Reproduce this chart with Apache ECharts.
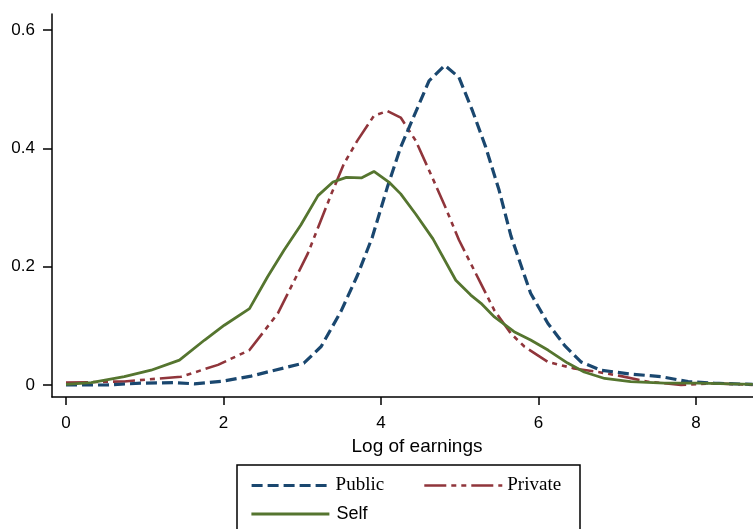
<!DOCTYPE html>
<html>
<head>
<meta charset="utf-8">
<script src="https://cdn.jsdelivr.net/npm/echarts@6/dist/echarts.min.js"></script>
<style>
html,body{margin:0;padding:0;background:#fff;}
#chart{width:753px;height:529px;}
</style>
</head>
<body>
<div id="chart"></div>
<script>
// ---- data ----
var xTicks = [0, 2, 4, 6, 8];
var yTicks = [0, 0.2, 0.4, 0.6];

var publicX = [0, 0.5, 0.95, 1.37, 1.63, 1.97, 2.35, 2.65, 3.02, 3.24, 3.49, 3.7, 3.89, 4.08, 4.25, 4.44, 4.61, 4.81, 4.99, 5.16, 5.33, 5.5, 5.65, 5.9, 6.12, 6.33, 6.54, 6.79, 7.17, 7.56, 7.9, 8.23, 8.72];
var publicY = [0, 0, 0.003, 0.004, 0.002, 0.006, 0.015, 0.025, 0.037, 0.065, 0.124, 0.185, 0.25, 0.334, 0.402, 0.461, 0.514, 0.54, 0.52, 0.464, 0.402, 0.329, 0.252, 0.155, 0.104, 0.067, 0.039, 0.025, 0.0185, 0.014, 0.0056, 0.003, 0.001];

var privateX = [0, 0.74, 1.46, 1.93, 2.33, 2.69, 3.07, 3.37, 3.53, 3.7, 3.91, 4.08, 4.25, 4.44, 4.61, 4.8, 4.99, 5.27, 5.44, 5.65, 5.82, 6.12, 6.45, 6.75, 7.05, 7.39, 7.81, 8.23, 8.72];
var privateY = [0.004, 0.006, 0.014, 0.034, 0.059, 0.121, 0.222, 0.323, 0.374, 0.413, 0.455, 0.463, 0.452, 0.413, 0.363, 0.306, 0.245, 0.171, 0.126, 0.087, 0.065, 0.039, 0.028, 0.022, 0.015, 0.0056, 0, 0.003, 0];

var selfX = [0, 0.32, 0.74, 1.08, 1.44, 1.76, 2.01, 2.33, 2.56, 2.77, 2.98, 3.2, 3.39, 3.56, 3.75, 3.91, 4.1, 4.25, 4.44, 4.66, 4.95, 5.14, 5.27, 5.44, 5.69, 5.9, 6.12, 6.37, 6.58, 6.84, 7.17, 7.6, 8.02, 8.72];
var selfY = [0.001, 0.004, 0.014, 0.025, 0.042, 0.076, 0.101, 0.129, 0.183, 0.228, 0.27, 0.32, 0.343, 0.351, 0.35, 0.361, 0.343, 0.323, 0.289, 0.247, 0.177, 0.152, 0.138, 0.115, 0.09, 0.076, 0.059, 0.037, 0.022, 0.011, 0.0056, 0.003, 0.003, 0.001];

function pairs(xs, ys) {
  var out = [];
  for (var i = 0; i < xs.length; i++) out.push([xs[i], ys[i]]);
  return out;
}

var chart = echarts.init(document.getElementById('chart'), null, {renderer: 'canvas'});
var sans = 'Liberation Sans, Arial, sans-serif';
var serif = 'Liberation Serif, Times New Roman, serif';
var hiddenSymbol = {opacity: 0, color: 'transparent', borderWidth: 0};

var option = {
  backgroundColor: '#ffffff',
  animation: false,
  grid: {left: 52, right: 0, top: 14, bottom: 132, containLabel: false},
  xAxis: {
    type: 'value',
    min: -0.178,
    max: 8.724,
    name: 'Log of earnings',
    nameLocation: 'middle',
    nameGap: 35,
    nameTextStyle: {fontFamily: sans, fontSize: 19, color: '#000', padding: [0, 0, 0, 29]},
    axisLine: {show: true, onZero: false, lineStyle: {color: '#000', width: 1.5}},
    axisTick: {show: true, length: 8, customValues: xTicks, lineStyle: {color: '#000', width: 1.5}},
    axisLabel: {customValues: xTicks, margin: 18, fontFamily: sans, fontSize: 17, color: '#000'},
    splitLine: {show: false}
  },
  yAxis: {
    type: 'value',
    min: -0.0203,
    max: 0.627,
    axisLine: {show: true, onZero: false, lineStyle: {color: '#000', width: 1.5}},
    axisTick: {show: true, length: 9, customValues: yTicks, lineStyle: {color: '#000', width: 1.5}},
    axisLabel: {
      customValues: yTicks, margin: 17, fontFamily: sans, fontSize: 17, color: '#000',
      formatter: function (v) { return v === 0 ? '0' : v.toFixed(1); }
    },
    splitLine: {show: false}
  },
  legend: [
    {data: ['Public'], left: 245, top: 471, itemWidth: 78, itemHeight: 14, selectedMode: false,
     itemStyle: hiddenSymbol,
     lineStyle: {width: 3.2}, textStyle: {fontFamily: serif, fontSize: 19, color: '#000', padding: [3, 0, 0, 1]}},
    {data: ['Private'], left: 418, top: 471, itemWidth: 78, itemHeight: 14, selectedMode: false,
     itemStyle: hiddenSymbol,
     lineStyle: {width: 2.6}, textStyle: {fontFamily: serif, fontSize: 19, color: '#000', padding: [3, 0, 0, 0]}},
    {data: ['Self'], left: 245, top: 500, itemWidth: 78, itemHeight: 14, selectedMode: false,
     itemStyle: hiddenSymbol,
     lineStyle: {width: 2.8}, textStyle: {fontFamily: sans, fontSize: 18, color: '#000', padding: [3, 0, 0, 2]}}
  ],
  graphic: [{
    type: 'rect',
    shape: {x: 237, y: 465, width: 343, height: 90},
    style: {fill: 'none', stroke: '#000', lineWidth: 1.5},
    silent: true
  }],
  series: [
    {name: 'Public', type: 'line', symbol: 'none', smooth: false, data: pairs(publicX, publicY),
     lineStyle: {color: '#1a476f', width: 3.2, type: [11, 5]}, itemStyle: {color: '#1a476f'}, z: 3},
    {name: 'Private', type: 'line', symbol: 'none', smooth: false, data: pairs(privateX, privateY),
     lineStyle: {color: '#90353b', width: 2.6, type: [22, 5, 5, 5, 5, 5]}, itemStyle: {color: '#90353b'}, z: 2},
    {name: 'Self', type: 'line', symbol: 'none', smooth: false, data: pairs(selfX, selfY),
     lineStyle: {color: '#55752f', width: 2.8, type: 'solid'}, itemStyle: {color: '#55752f'}, z: 4}
  ]
};
chart.setOption(option);
</script>
</body>
</html>
